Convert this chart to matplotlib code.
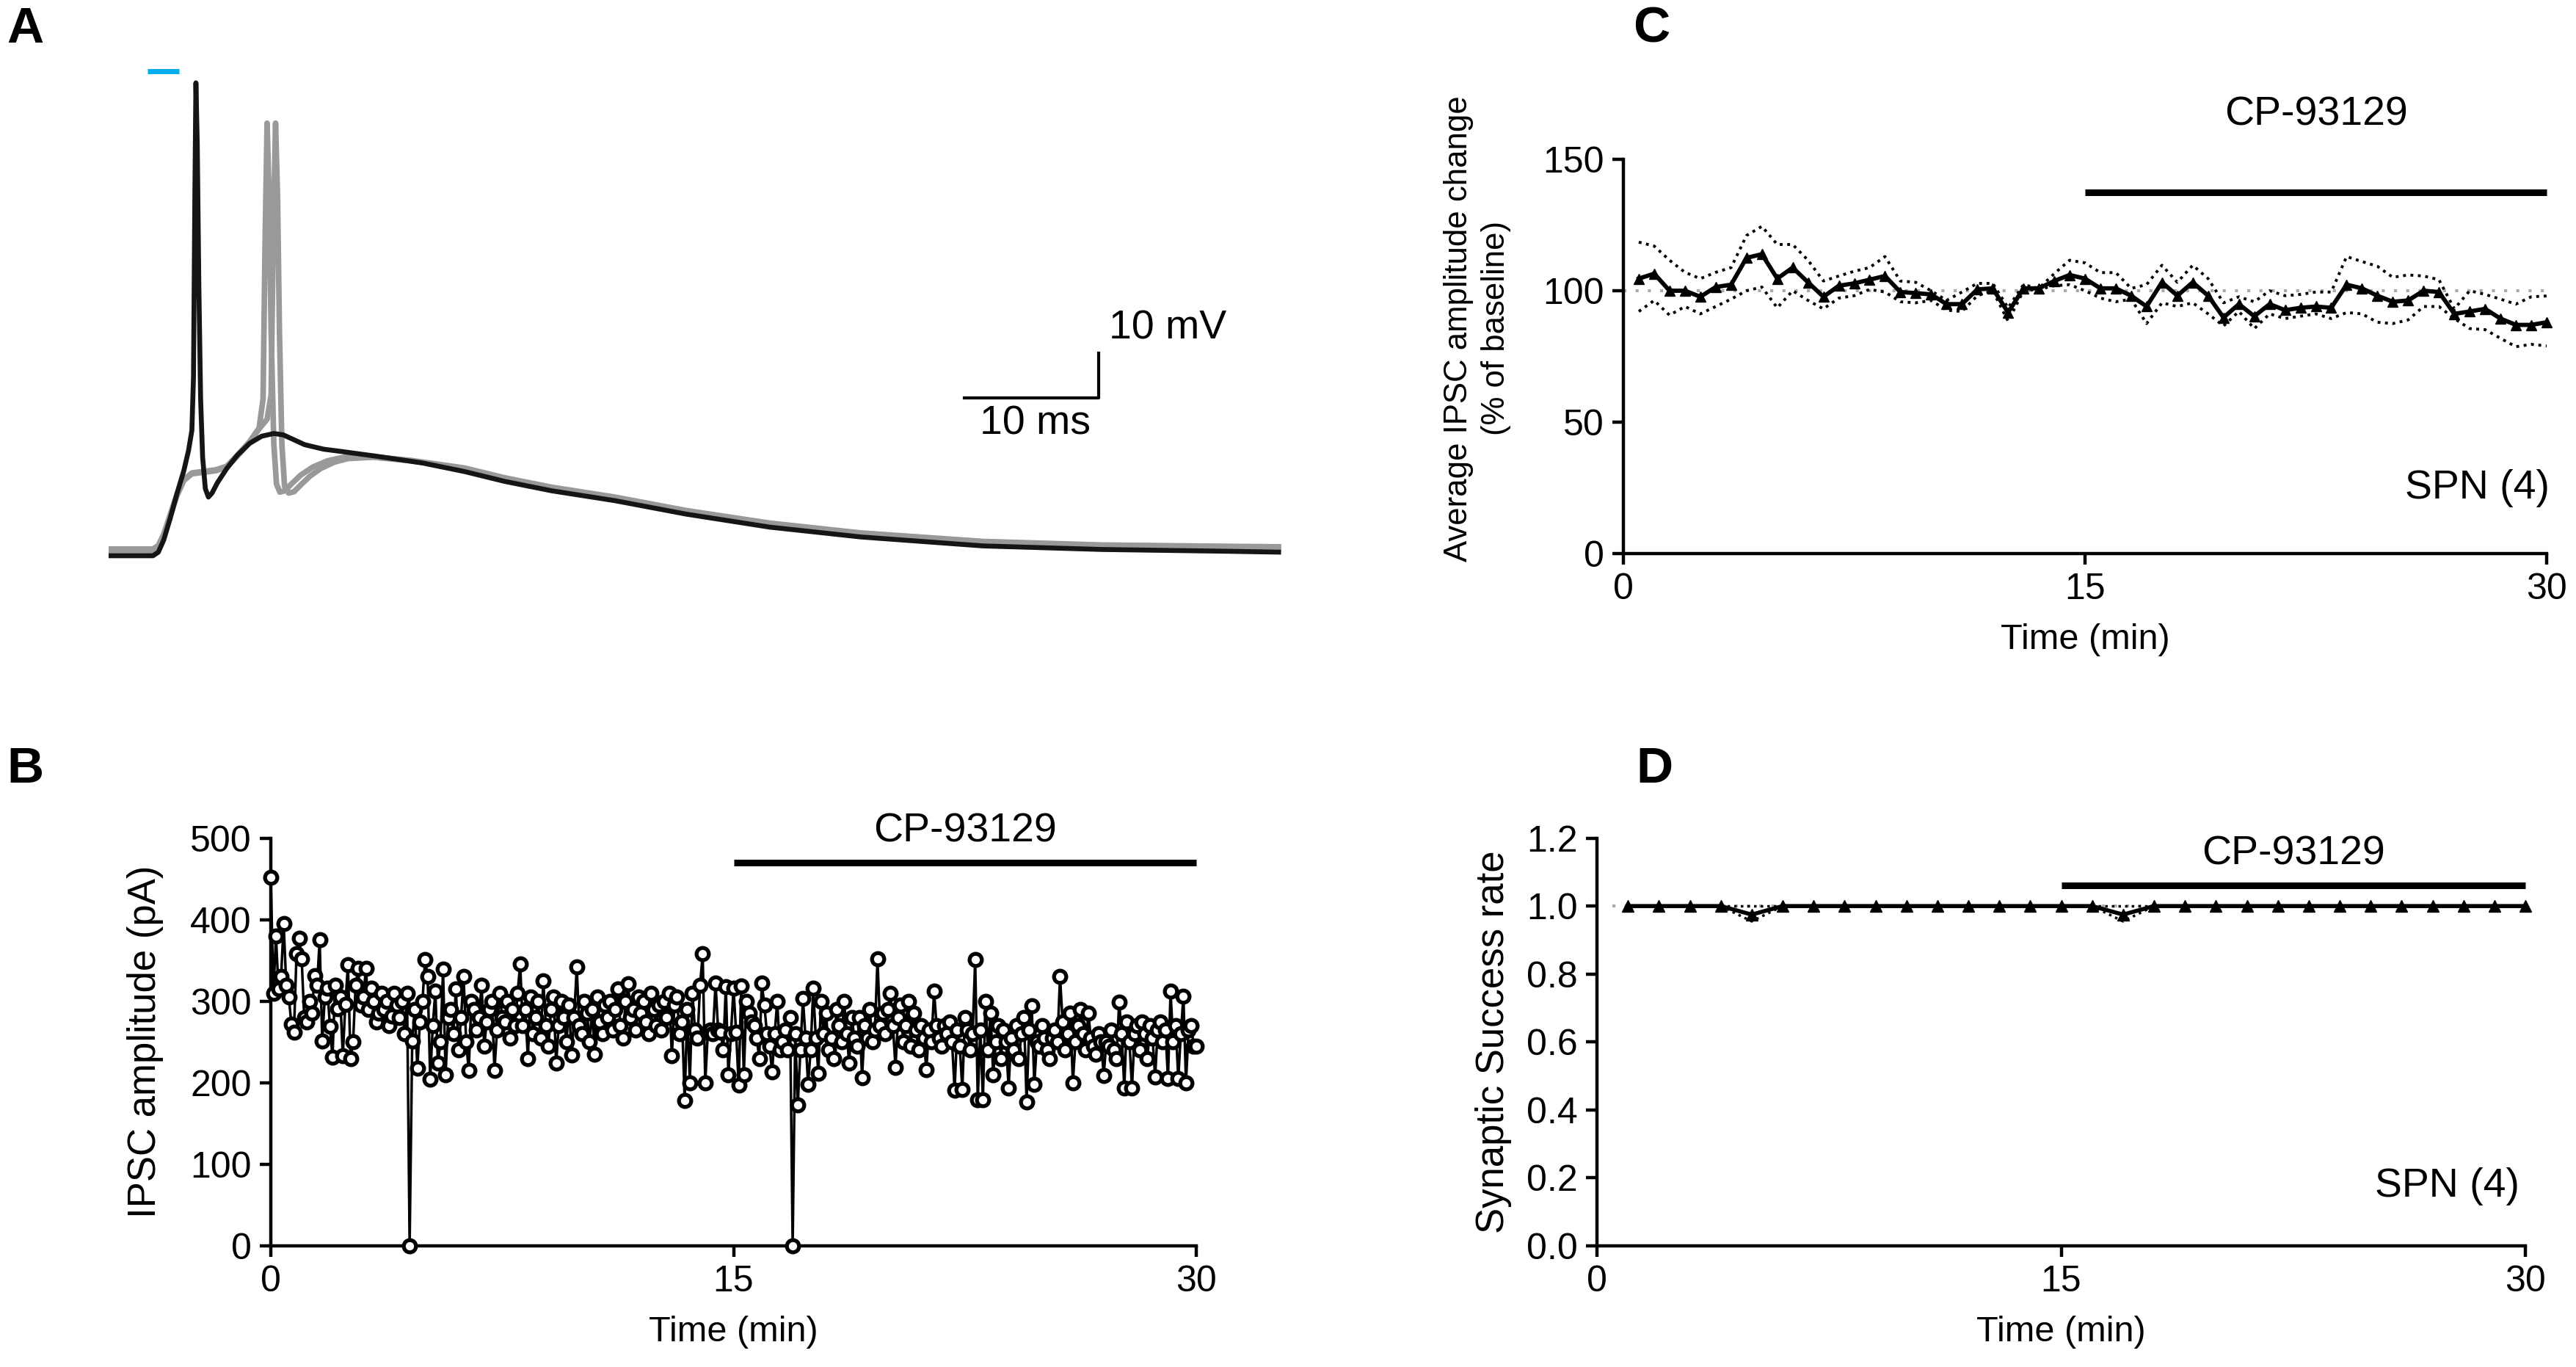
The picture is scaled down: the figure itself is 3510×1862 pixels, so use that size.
import numpy as np
import matplotlib
matplotlib.use("Agg")
import matplotlib.pyplot as plt
from matplotlib import font_manager

# ---- panel A: current-clamp traces (ms, mV above baseline) ----
A_BLACK_T = [0, 3.3, 3.7, 4.1, 4.6, 5.1, 5.6, 5.95, 6.2, 6.32, 6.42, 6.5, 6.6, 6.72, 6.85,
             7.0, 7.2, 7.43, 7.7, 8.1, 8.8, 9.6, 10.5, 11.4, 12.3, 13.0, 13.8, 14.6, 16.0,
             17.3, 20, 23.4, 26.5, 29.5, 33, 37.7, 43, 49.2, 56, 65.1, 74, 83.4, 87.3]
A_BLACK_V = [0, 0, 0.8, 3.5, 8.5, 14, 19, 23.5, 28, 40, 80, 105.6, 92, 60, 35,
             22, 15, 13.1, 14, 16.3, 19.5, 22.5, 25.1, 26.7, 27.3, 27.0, 25.9, 24.8, 23.8,
             23.3, 22.2, 20.7, 18.8, 16.6, 14.5, 12.3, 9.3, 6.4, 4.2, 2.2, 1.4, 1.0, 0.8]
A_GRAY1_T = [0, 3.3, 3.7, 4.1, 4.6, 5.1, 5.6, 6.2, 7.0, 8.0, 8.8, 9.6, 10.5, 11.2, 11.5,
             11.65, 11.8, 11.95, 12.1, 12.3, 12.5, 12.75, 13.1, 13.6, 14.3, 15.2, 16.3,
             17.5, 19.7, 22.5, 26.5, 29.5, 33, 37.7, 43, 49.2, 56, 65.1, 74, 83.4, 87.3]
A_GRAY1_V = [1.5, 1.5, 2.3, 4.8, 9.3, 13.8, 17.0, 18.5, 18.8, 19.2, 20.0, 22.5, 25.5, 28.5, 35,
             70, 96.6, 80, 50, 25, 16, 14.2, 14.5, 16.0, 18.0, 19.8, 21.2,
             22.0, 22.1, 21.3, 19.6, 17.4, 15.3, 13.1, 10.1, 7.3, 5.1, 3.2, 2.4, 2.1, 2.0]
A_GRAY2_T = [0, 3.3, 3.7, 4.1, 4.6, 5.1, 5.6, 6.2, 7.0, 8.0, 8.8, 9.6, 10.5, 11.2, 11.8,
             12.1, 12.25, 12.43, 12.58, 12.72, 12.9, 13.1, 13.4, 13.8, 14.3, 15.0, 15.8, 16.8,
             17.8, 19.7, 22.5, 26.5, 29.5, 33, 37.7, 43, 49.2, 56, 65.1, 74, 83.4, 87.3]
A_GRAY2_V = [1.0, 1.0, 1.8, 4.4, 9.0, 13.5, 16.8, 18.3, 18.6, 19.0, 19.8, 22.3, 25.3, 28.3, 30.5,
             36, 70, 96.6, 80, 50, 25, 15.5, 14.0, 14.3, 15.8, 17.8, 19.5, 20.9,
             21.7, 22.0, 21.2, 19.5, 17.3, 15.2, 13.0, 10.0, 7.2, 5.0, 3.1, 2.3, 2.0, 1.9]
A_LIGHT_T = [2.9, 5.25]

# ---- panel B: single cell IPSC amplitude, one sweep every 5 s ----
B_INTERVAL_S = 5
B_AMP = [
    452, 310, 380, 315, 330, 395, 320, 305, 272, 262, 358, 377,
    352, 280, 275, 300, 285, 331, 320, 375, 251, 305, 316, 269,
    231, 320, 291, 305, 233, 296, 345, 230, 250, 320, 340, 295,
    305, 340, 290, 316, 300, 275, 285, 310, 290, 300, 270, 282,
    310, 295, 280, 300, 260, 310, 0, 251, 290, 218, 275, 300,
    351, 330, 204, 270, 312, 224, 250, 339, 210, 280, 290, 260,
    315, 240, 280, 330, 250, 215, 300, 290, 265, 280, 320, 245,
    275, 290, 300, 215, 265, 310, 280, 275, 300, 255, 290, 270,
    310, 346, 270, 290, 230, 305, 260, 280, 300, 255, 325, 270,
    245, 290, 305, 224, 270, 300, 280, 250, 295, 234, 280, 342,
    270, 260, 300, 285, 250, 290, 235, 305, 275, 260, 295, 280,
    300, 265, 290, 315, 270, 255, 300, 321, 280, 290, 265, 305,
    285, 300, 275, 260, 310, 290, 270, 295, 265, 300, 280, 310,
    233, 295, 305, 260, 275, 178, 290, 200, 310, 265, 255, 320,
    358, 200, 262, 265, 260, 322, 265, 262, 240, 318, 210, 260,
    316, 262, 197, 319, 210, 300, 285, 275, 270, 255, 230, 322,
    295, 260, 245, 213, 260, 300, 240, 250, 265, 240, 280, 0,
    260, 173, 240, 303, 255, 198, 240, 316, 255, 212, 300, 260,
    285, 240, 255, 230, 290, 270, 250, 300, 260, 224, 280, 255,
    245, 280, 206, 270, 255, 290, 250, 265, 352, 270, 285, 260,
    290, 310, 270, 219, 280, 295, 250, 270, 300, 245, 285, 265,
    240, 270, 255, 216, 265, 250, 312, 270, 255, 245, 270, 260,
    275, 250, 191, 265, 245, 192, 280, 265, 240, 260, 351, 179,
    265, 179, 300, 240, 285, 210, 250, 270, 230, 265, 250, 194,
    255, 240, 270, 230, 260, 280, 176, 265, 294, 198, 250, 245,
    270, 255, 240, 230, 255, 265, 250, 330, 275, 240, 260, 285,
    200, 250, 270, 290, 260, 240, 285, 255, 245, 235, 260, 250,
    209, 250, 245, 265, 240, 230, 299, 260, 194, 275, 250, 194,
    260, 270, 240, 275, 260, 230, 270, 255, 207, 265, 275, 250,
    265, 205, 312, 250, 270, 205, 260, 306, 200, 265, 270, 245,
    245,
]

# ---- panel C: average IPSC amplitude (% baseline), 30 s bins, mean +/- SEM ----
C_TIME = [0.5 * (i + 1) for i in range(60)]
C_MEAN = [104.6, 106.5, 100, 100, 97.7, 101.4, 102.3, 112.5, 113.9, 104.6,
          108.8, 103.2, 97.7, 101.9, 102.8, 104.2, 105.6, 99.5, 99.1, 98.6,
          94.9, 94.9, 100.5, 100.9, 91.7, 100.9, 100.9, 103.7, 106.0, 104.6,
          100.9, 100.9, 98.1, 94.0, 103.2, 98.1, 103.2, 98.1, 89.8, 94.9,
          90.3, 94.9, 92.6, 93.5, 94.0, 93.5, 102.3, 100.9, 98.1, 95.8,
          96.3, 100.0, 99.5, 91.2, 92.1, 93.1, 89.4, 87.0, 87.0, 88.0]
C_UPPER = [118.5, 117, 111.6, 107, 104.6, 107, 108.8, 121, 124.5, 117.6,
           117.6, 111.6, 103.7, 105.6, 107.4, 108.8, 113, 103.7, 103.2, 100,
           96.3, 99.5, 102.8, 102.8, 93.5, 102.3, 100.9, 106.5, 111.6, 110.6,
           106.9, 106.9, 100.9, 102.3, 109.7, 103.2, 109.7, 104.6, 95.4, 97.7,
           95.8, 100, 98.1, 98.6, 99.5, 99.5, 113, 111.1, 109.3, 105.1,
           106, 105.6, 104.2, 93.1, 100, 98.6, 96.8, 94.9, 97.7, 98]
C_LOWER = [92.1, 96.3, 90.7, 94, 91.2, 94, 96.8, 100, 101.4, 93.5,
           100, 96.3, 93.1, 97.2, 98.1, 100.5, 99.5, 95.8, 95.4, 96.3,
           92.6, 92.1, 98.1, 100, 88.4, 100, 100.5, 101.9, 102.3, 100,
           97.2, 95.8, 96.8, 87.5, 95.4, 94, 95.4, 91.2, 86.6, 92.1,
           85.6, 91.2, 89.4, 90.3, 91.2, 89.4, 91.7, 91.2, 88, 87.5,
           88.9, 94, 94, 89.4, 85.6, 85.2, 81.9, 78.7, 79.6, 79]

# ---- panel D: synaptic success rate, 1 min bins ----
D_TIME = list(range(1, 31))
D_MEAN = [1, 1, 1, 1, 0.975, 1, 1, 1, 1, 1, 1, 1, 1, 1, 1,
          1, 0.975, 1, 1, 1, 1, 1, 1, 1, 1, 1, 1, 1, 1, 1]
D_UPPER = [1.0] * 30
D_LOWER = [1, 1, 1, 1, 0.955, 1, 1, 1, 1, 1, 1, 1, 1, 1, 1,
           1, 0.955, 1, 1, 1, 1, 1, 1, 1, 1, 1, 1, 1, 1, 1]

DRUG = "CP-93129"
DRUG_ON = [15, 30]

names = {f.name for f in font_manager.fontManager.ttflist}
NARROW = "Liberation Sans Narrow" if "Liberation Sans Narrow" in names else "Liberation Sans"
plt.rcParams["font.family"] = [NARROW, "Liberation Sans", "DejaVu Sans"]
REG = ["Liberation Sans", "DejaVu Sans"]

W, H = 3510, 1862
fig = plt.figure(figsize=(W / 100, H / 100), dpi=100)


def px_axes(left, right, top, bottom):
    return fig.add_axes([left / W, 1 - bottom / H, (right - left) / W, (bottom - top) / H])


def style_axes(ax):
    for s in ["top", "right"]:
        ax.spines[s].set_visible(False)
    for s in ["left", "bottom"]:
        ax.spines[s].set_linewidth(3.2)
    ax.tick_params(direction="out", length=11, width=3.2, labelsize=TICK_FS, pad=8)


TICK_FS = 36
LAB_FS = 35
TXT_FS = 40

# panel A
axA = px_axes(148, 148 + 87.3 * 18.3, 757 - 110 * 6.1, 757 + 3 * 6.1)
axA.set_xlim(0, 87.3)
axA.set_ylim(-3, 110)
axA.axis("off")
for t, v in [(A_GRAY2_T, A_GRAY2_V), (A_GRAY1_T, A_GRAY1_V)]:
    axA.plot(t, v, color="#999999", lw=5.5, solid_joinstyle="round", solid_capstyle="butt")
axA.plot(A_BLACK_T, A_BLACK_V, color="#151515", lw=4.8, solid_joinstyle="round",
         solid_capstyle="butt")
axA.plot(A_LIGHT_T, [108.2, 108.2], color="#00aeef", lw=5, solid_capstyle="butt")
axA.plot([63.7, 73.7, 73.7], [35.2, 35.2, 45.2], color="black", lw=3)
axA.text(74.5, 50.7, "10 mV", fontsize=TXT_FS, ha="left", va="center")
axA.text(69, 29.4, "10 ms", fontsize=TXT_FS, ha="center", va="center")

# panel B
axB = px_axes(369, 1630, 1141.6, 1697)
style_axes(axB)
tB = np.arange(len(B_AMP)) * B_INTERVAL_S / 60.0
axB.plot(tB, B_AMP, "-o", color="black", lw=2.5, ms=12, mfc="white", mec="black",
         mew=3.8, clip_on=False, zorder=3)
axB.set_xlim(0, 30)
axB.set_ylim(0, 500)
axB.set_xticks([0, 15, 30])
axB.set_yticks([0, 100, 200, 300, 400, 500])
axB.plot(DRUG_ON, [470, 470], color="black", lw=6.5, solid_capstyle="butt", clip_on=False)
axB.text(22.5, 508, DRUG, fontsize=TXT_FS, ha="center", va="center")
axB.set_xlabel("Time (min)", fontsize=LAB_FS, labelpad=16)
axB.set_ylabel("IPSC amplitude (pA)", fontsize=38, family=REG, labelpad=26)

# panel C
axC = px_axes(2212, 3470, 217, 754)
style_axes(axC)
axC.plot([0, 30], [100, 100], color="#aaaaaa", lw=3, ls=(0, (1, 3)))
axC.plot(C_TIME, C_UPPER, color="black", lw=2.8, ls=(0, (1, 1.6)))
axC.plot(C_TIME, C_LOWER, color="black", lw=2.8, ls=(0, (1, 1.6)))
axC.plot(C_TIME, C_MEAN, "-^", color="black", lw=4.2, ms=10, clip_on=False)
axC.set_xlim(0, 30)
axC.set_ylim(0, 150)
axC.set_xticks([0, 15, 30])
axC.set_yticks([0, 50, 100, 150])
axC.plot(DRUG_ON, [137.4, 137.4], color="black", lw=6.5, solid_capstyle="butt", clip_on=False)
axC.text(22.5, 166.8, DRUG, fontsize=TXT_FS, ha="center", va="center")
axC.text(30.1, 24.9, "SPN (4)", fontsize=TXT_FS, ha="right", va="center")
axC.set_xlabel("Time (min)", fontsize=LAB_FS, labelpad=16)
axC.set_ylabel("Average IPSC amplitude change\n(% of baseline)", fontsize=31.5,
               family=REG, linespacing=1.3)
axC.yaxis.set_label_coords(-0.122, 0.571)

# panel D
axD = px_axes(2176, 3441, 1141.6, 1697)
style_axes(axD)
axD.plot([0.5, 30], [1, 1], color="#aaaaaa", lw=3, ls=(0, (1, 3)))
axD.plot(D_TIME, D_UPPER, color="black", lw=2.5, ls=(0, (1, 1.6)))
axD.plot(D_TIME, D_LOWER, color="black", lw=2.5, ls=(0, (1, 1.6)))
axD.plot(D_TIME, D_MEAN, "-^", color="black", lw=4, ms=11, clip_on=False)
axD.set_xlim(0, 30)
axD.set_ylim(0, 1.2)
axD.set_xticks([0, 15, 30])
axD.set_yticks([0, 0.2, 0.4, 0.6, 0.8, 1.0, 1.2])
axD.set_yticklabels(["0.0", "0.2", "0.4", "0.6", "0.8", "1.0", "1.2"])
axD.plot(DRUG_ON, [1.06, 1.06], color="black", lw=6.5, solid_capstyle="butt", clip_on=False)
axD.text(22.5, 1.152, DRUG, fontsize=TXT_FS, ha="center", va="center")
axD.text(29.8, 0.175, "SPN (4)", fontsize=TXT_FS, ha="right", va="center")
axD.set_xlabel("Time (min)", fontsize=LAB_FS, labelpad=16)
axD.set_ylabel("Synaptic Success rate", fontsize=38, family=REG, labelpad=14)

# panel letters
for letter, x, y in [("A", 34, 40), ("B", 34, 1048), ("C", 2250, 40), ("D", 2254, 1048)]:
    fig.text(x / W, 1 - y / H, letter, fontsize=50, fontweight="bold", ha="center", va="center")

fig.savefig("out.png", dpi=100)
